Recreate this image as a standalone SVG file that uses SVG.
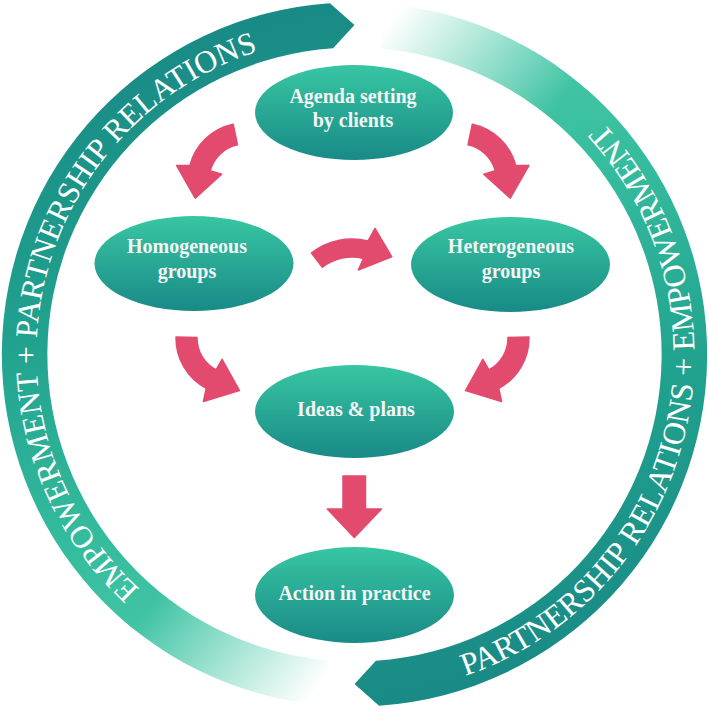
<svg xmlns="http://www.w3.org/2000/svg" xmlns:xlink="http://www.w3.org/1999/xlink" width="709" height="709" viewBox="0 0 709 709">
  <defs>
    <style>
      .ring-text { font-family: "Liberation Serif", "Times New Roman", serif; fill: #ffffff; }
      .node-text { font-family: "Liberation Serif", "Times New Roman", serif; font-size: 20px; font-weight: bold; fill: #f4f4f4; text-anchor: middle; }
      .node { fill: url(#nodeGrad); }
      .conn { fill: #e34b6e; stroke: #e34b6e; stroke-width: 1.5; stroke-linejoin: round; }
    </style>
    <linearGradient id="nodeGrad" x1="0" y1="0" x2="0" y2="1">
      <stop offset="0" stop-color="#38c6a2"/>
      <stop offset="1" stop-color="#198a87"/>
    </linearGradient>
    <linearGradient id="bandGrad" gradientUnits="userSpaceOnUse" x1="180" y1="0" x2="340" y2="705">
      <stop offset="0" stop-color="#188784"/>
      <stop offset="0.4" stop-color="#20a18e"/>
      <stop offset="0.72" stop-color="#36bd9e"/>
      <stop offset="0.9" stop-color="#48c8a8"/>
      <stop offset="1" stop-color="#55cdae"/>
    </linearGradient>
    <linearGradient id="fadeGrad" gradientUnits="userSpaceOnUse" x1="170" y1="580" x2="335" y2="700">
      <stop offset="0" stop-color="#ffffff"/>
      <stop offset="0.9" stop-color="#000000"/>
    </linearGradient>
    <mask id="fadeMask" maskUnits="userSpaceOnUse" maskContentUnits="userSpaceOnUse" x="0" y="0" width="709" height="709">
      <rect x="0" y="0" width="709" height="709" fill="url(#fadeGrad)"/>
    </mask>
    <g id="band">
      <path d="M 323.8,705.2 A 352 352 0 0 1 329.9,3.3 L 354.5,25 L 333.1,48.2 A 307 307 0 0 0 327.7,660.3 Z" fill="url(#bandGrad)" mask="url(#fadeMask)"/>
    </g>
    <path id="cwArrow" d="M 11.85,-55.75 A 57 57 0 0 1 55.06,-14.75 L 68.47,-14.55 L 49.8,18.13 L 23.29,-5.81 L 34.77,-9.32 A 36 36 0 0 0 7.49,-35.21 Z"/>
    <path id="leftTextPath" d="M 139.7,589.0 A 318 318 0 0 1 463.3,55.7"/>
    <path id="rightTextPath" d="M 465.2,676.0 A 340 340 0 0 0 295.5,19.7"/>
  </defs>

  <rect width="709" height="709" fill="#ffffff"/>

  <g id="ring">
    <use xlink:href="#band" href="#band"/>
    <g transform="rotate(180 354.5 354.5)">
      <use xlink:href="#band" href="#band"/>
    </g>
    <text class="ring-text" font-size="31.5"><textPath xlink:href="#leftTextPath" href="#leftTextPath">EMPOWERMENT + PARTNERSHIP RELATIONS</textPath></text>
    <text class="ring-text" font-size="32"><textPath xlink:href="#rightTextPath" href="#rightTextPath">PARTNERSHIP RELATIONS + EMPOWERMENT</textPath></text>
  </g>

  <g id="connectors">
    <use class="conn" xlink:href="#cwArrow" href="#cwArrow" transform="translate(245,180) scale(-1,1)"/>
    <use class="conn" xlink:href="#cwArrow" href="#cwArrow" transform="translate(460.5,180)"/>
    <path class="conn" d="M 311.4,253 A 66 66 0 0 1 368,241 L 375,228.3 L 391.7,256.7 L 358.3,270 L 363.6,258.4 A 48 48 0 0 0 322.4,267.2 Z"/>
    <use class="conn" xlink:href="#cwArrow" href="#cwArrow" transform="translate(233,338) scale(-1,1) rotate(77)"/>
    <use class="conn" xlink:href="#cwArrow" href="#cwArrow" transform="translate(472,338) rotate(77)"/>
    <path class="conn" d="M 343,476 L 365.5,476 L 365.5,509 L 381.5,509 L 354.3,537.5 L 327.3,509 L 343,509 Z"/>
  </g>

  <g id="node-agenda">
    <ellipse class="node" cx="354" cy="112.5" rx="99" ry="47.5"/>
    <text class="node-text"><tspan x="353" y="103">Agenda setting</tspan><tspan x="353" y="127">by clients</tspan></text>
  </g>
  <g id="node-homogeneous">
    <ellipse class="node" cx="194" cy="263.5" rx="99.5" ry="47.5"/>
    <text class="node-text"><tspan x="187" y="253">Homogeneous</tspan><tspan x="187" y="278">groups</tspan></text>
  </g>
  <g id="node-heterogeneous">
    <ellipse class="node" cx="510.5" cy="264.5" rx="99.5" ry="47.5"/>
    <text class="node-text"><tspan x="511" y="253">Heterogeneous</tspan><tspan x="511" y="278">groups</tspan></text>
  </g>
  <g id="node-ideas">
    <ellipse class="node" cx="354.5" cy="411.5" rx="99.5" ry="46.5"/>
    <text class="node-text" x="356" y="416">Ideas &amp; plans</text>
  </g>
  <g id="node-action">
    <ellipse class="node" cx="354.5" cy="595" rx="99.5" ry="48"/>
    <text class="node-text" x="354.5" y="600">Action in practice</text>
  </g>
</svg>
